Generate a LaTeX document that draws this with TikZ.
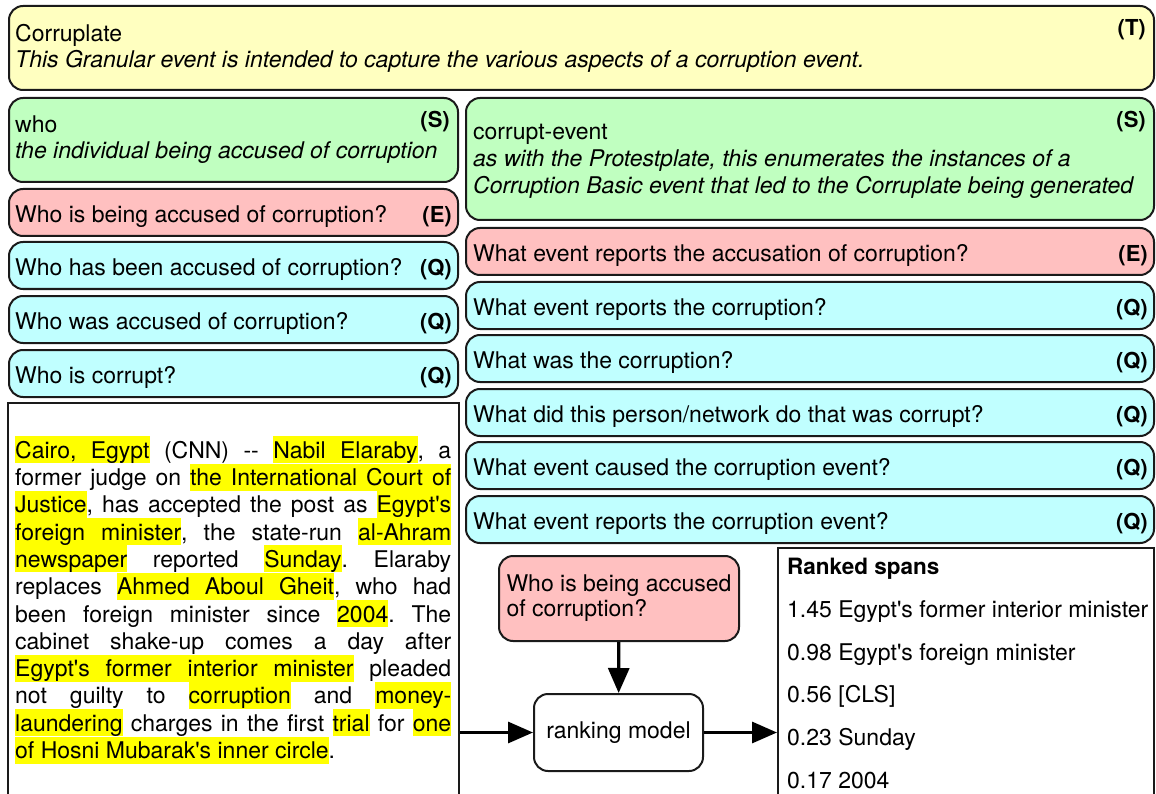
\documentclass[tikz,border=0pt]{standalone}
\usepackage{fontspec}
\setmainfont{TeX Gyre Heros}[Ligatures=TeXOff]
\usetikzlibrary{arrows.meta}

\definecolor{tfill}{HTML}{FFFFC0}
\definecolor{sfill}{HTML}{C0FFC0}
\definecolor{efill}{HTML}{FFC0C0}
\definecolor{qfill}{HTML}{C0FFFF}
\definecolor{hlyellow}{HTML}{FFFF00}
\definecolor{edge}{HTML}{1A1A1A}

% highlighted word, highlighted space, justified line
\newskip\wordgap
\wordgap=6.4pt plus 4pt minus 2pt
\newcommand\hlw[1]{{\setlength\fboxsep{0pt}\colorbox{hlyellow}{\rule[-5pt]{0pt}{27pt}#1}}}
\newcommand\hls{{\color{hlyellow}\leaders\vrule height 22pt depth 5pt\hskip\wordgap}}
\newcommand\jline[1]{\hbox to 436pt{\spaceskip=\wordgap #1}}

\begin{document}
\begin{tikzpicture}[x=1pt, y=-1pt, font=\fontsize{23}{27.3}\selectfont,
    cell/.style={draw=edge, line width=2pt, rounded corners=14pt, anchor=north west, inner sep=0pt},
    frame/.style={draw=edge, line width=2pt, anchor=north west, inner sep=0pt},
    lbl/.style={anchor=base west, inner sep=0pt},
    tag/.style={anchor=base east, inner sep=0pt, font=\fontsize{22}{26}\selectfont\bfseries},
    flow/.style={line width=3.2pt, -{Triangle[length=25pt, width=21pt]}}]
  \useasboundingbox (0,0) rectangle (1156,794);

  % Template
  \node[cell, fill=tfill, minimum width=1145pt, minimum height=84pt] (template) at (8,5) {};
  \node[lbl] (tname) at (15,42) {Corruplate};
  \node[lbl] (tdesc) at (15,68) {\itshape This Granular event is intended to capture the various aspects of a corruption event.};
  \node[tag] (ttag) at (1146,36) {(T)};

  % Slot: who
  \node[cell, fill=sfill, minimum width=449pt, minimum height=84pt] (who) at (8,97) {};
  \node[lbl] (whoname) at (15,133) {who};
  \node[lbl] (whodesc) at (15,159) {\itshape the individual being accused of corruption};
  \node[tag] (whotag) at (450,128) {(S)};

  % Slot: corrupt-event
  \node[cell, fill=sfill, minimum width=688pt, minimum height=122pt] (event) at (465,97) {};
  \node[lbl] (eventname) at (473,140) {corrupt-event};
  \node[lbl] (eventdesc1) at (473,167) {\itshape as with the Protestplate, this enumerates the instances of a};
  \node[lbl] (eventdesc2) at (473,194) {\itshape Corruption Basic event that led to the Corruplate being generated};
  \node[tag] (eventtag) at (1146,128) {(S)};

  % Questions for who
  \foreach \i/\y/\c/\t/\q in {1/188/efill/E/{Who is being accused of corruption?},
      2/241/qfill/Q/{Who has been accused of corruption?},
      3/295/qfill/Q/{Who was accused of corruption?},
      4/349/qfill/Q/{Who is corrupt?}} {
    \node[cell, fill=\c, minimum width=449pt, minimum height=47pt] (whoq\i) at (8,\y) {};
    \node[lbl, xshift=7pt, yshift=-10pt] (whoqtext\i) at (whoq\i.west) {\q};
    \node[tag, xshift=-7pt, yshift=-10pt] (whoqtag\i) at (whoq\i.east) {(\t)};
  }

  % Questions for corrupt-event
  \foreach \i/\y/\c/\t/\q in {1/227/efill/E/{What event reports the accusation of corruption?},
      2/281/qfill/Q/{What event reports the corruption?},
      3/334/qfill/Q/{What was the corruption?},
      4/388/qfill/Q/{What did this person/network do that was corrupt?},
      5/441/qfill/Q/{What event caused the corruption event?},
      6/495/qfill/Q/{What event reports the corruption event?}} {
    \node[cell, fill=\c, minimum width=688pt, minimum height=47pt] (eventq\i) at (465,\y) {};
    \node[lbl, xshift=8pt, yshift=-10pt] (eventqtext\i) at (eventq\i.west) {\q};
    \node[tag, xshift=-7pt, yshift=-10pt] (eventqtag\i) at (eventq\i.east) {(\t)};
  }

  % Article with highlighted candidate spans
  \node[frame, minimum width=451pt, minimum height=400pt] (article) at (7,402) {};
  \node[anchor=north west, inner sep=0pt, text width=436pt] (para) at (15,436) {\frenchspacing
    \jline{\hlw{Cairo,}\hls\hlw{Egypt} (CNN) -- \hlw{Nabil}\hls\hlw{Elaraby}, a}
    \jline{former judge on \hlw{the}\hls\hlw{International}\hls\hlw{Court}\hls\hlw{of}}
    \jline{\hlw{Justice}, has accepted the post as \hlw{Egypt's}}
    \jline{\hlw{foreign}\hls\hlw{minister}, the state-run \hlw{al-Ahram}}
    \jline{\hlw{newspaper} reported \hlw{Sunday}. Elaraby}
    \jline{replaces \hlw{Ahmed}\hls\hlw{Aboul}\hls\hlw{Gheit}, who had}
    \jline{been foreign minister since \hlw{2004}. The}
    \jline{cabinet shake-up comes a day after}
    \jline{\hlw{Egypt's}\hls\hlw{former}\hls\hlw{interior}\hls\hlw{minister} pleaded}
    \jline{not guilty to \hlw{corruption} and \hlw{money-}}
    \jline{\hlw{laundering} charges in the first \hlw{trial} for \hlw{one}}
    \jline{\hlw{of}\hls\hlw{Hosni}\hls\hlw{Mubarak's}\hls\hlw{inner}\hls\hlw{circle}.\hfil}};

  % Query and model
  \node[cell, fill=efill, minimum width=240pt, minimum height=85pt, align=left,
    font=\fontsize{23}{25}\selectfont] (query) at (498,555)
    {Who is being accused\\of corruption?};
  \node[cell, fill=white, minimum width=169pt, minimum height=77pt] (model) at (533,693) {ranking model};

  % Ranked spans
  \node[frame, minimum width=376pt, minimum height=260pt] (ranked) at (777,547) {};
  \node[lbl, font=\fontsize{22.5}{26}\selectfont\bfseries] (rhead) at (787,574) {Ranked spans};
  \foreach \i/\y/\s in {1/617/{1.45 Egypt's former interior minister},
      2/660/{0.98 Egypt's foreign minister},
      3/702/{0.56 [CLS]},
      4/745/{0.23 Sunday},
      5/788/{0.17 2004}}
    \node[lbl] (span\i) at (787,\y) {\s};

  % Arrows
  \draw[flow] (query) -- (model);
  \draw[flow] (article.east |- model) -- (model);
  \draw[flow] (model) -- (ranked.west |- model);
\end{tikzpicture}
\end{document}
